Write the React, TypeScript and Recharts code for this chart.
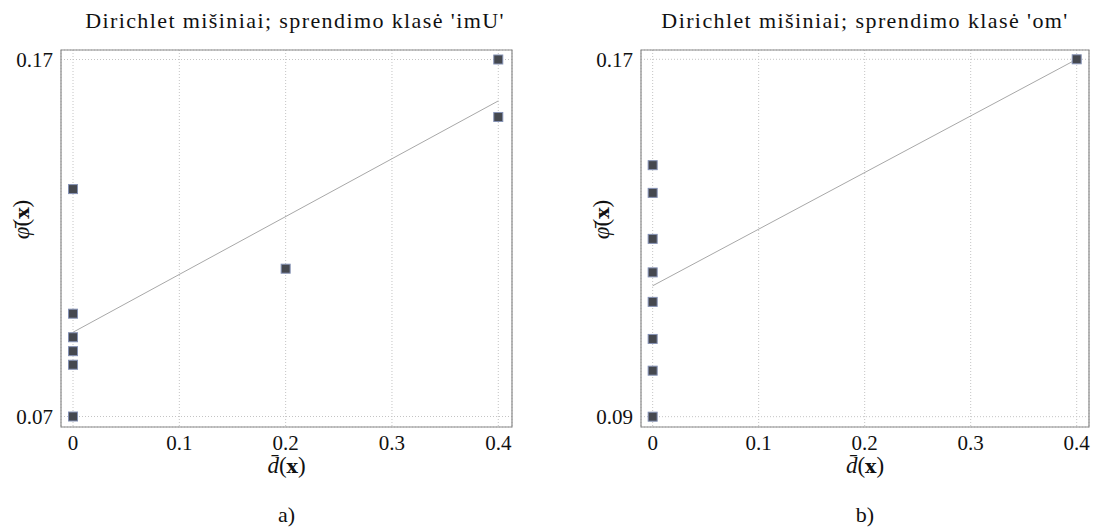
import React from 'react';
import { CartesianGrid, ReferenceArea, ReferenceLine, Scatter, ScatterChart, XAxis, YAxis } from 'recharts';

// panel a) 'imU'
const imuPoints = [
  { x: 0, y: 0.1337 },
  { x: 0, y: 0.0988 },
  { x: 0, y: 0.0922 },
  { x: 0, y: 0.0883 },
  { x: 0, y: 0.0845 },
  { x: 0, y: 0.07 },
  { x: 0.2, y: 0.1114 },
  { x: 0.4, y: 0.17 },
  { x: 0.4, y: 0.1539 },
];
const imuFit = [{ x: 0, y: 0.0936 }, { x: 0.4, y: 0.1584 }];
const imuYTicks = [0.07, 0.17];

// panel b) 'om'
const omPoints = [
  { x: 0, y: 0.1463 },
  { x: 0, y: 0.1401 },
  { x: 0, y: 0.1298 },
  { x: 0, y: 0.1223 },
  { x: 0, y: 0.1157 },
  { x: 0, y: 0.1074 },
  { x: 0, y: 0.1003 },
  { x: 0, y: 0.09 },
  { x: 0.4, y: 0.17 },
];
const omFit = [{ x: 0, y: 0.1193 }, { x: 0.4, y: 0.17 }];
const omYTicks = [0.09, 0.17];

const xTicks = [0, 0.1, 0.2, 0.3, 0.4];

const serif = 'Liberation Serif, Times New Roman, DejaVu Serif, serif';
const tickStyle = { fill: '#111', fontFamily: serif, fontSize: 21 };

const Square = (p: any) => (
  <rect x={p.cx - 4.5} y={p.cy - 4.5} width={9} height={9} fill="#45484f" stroke="#8592b5" strokeWidth={1}/>
);

function Panel({ title, tag, points, fit, yTicks, xDomain, yDomain, left, width, margin, titleX }: any) {
  const cx = left + margin.left + 50 + (width - margin.left - 50 - margin.right) / 2;
  const label = { position: 'absolute' as const, fontFamily: serif, color: '#111', textAlign: 'center' as const, lineHeight: 1 };
  return (
    <>
      <div style={{ position: 'absolute', left, top: 0 }}>
        <ScatterChart width={width} height={528} margin={margin} style={{ fontFamily: serif }}>
          <CartesianGrid stroke="#c4c4c4" strokeDasharray="1 2"/>
          <XAxis
            type="number"
            dataKey="x"
            domain={xDomain}
            ticks={xTicks}
            allowDataOverflow
            tickLine={false}
            axisLine={false}
            tick={tickStyle}
            tickFormatter={(v) => String(v)}
            height={30}
          />
          <YAxis
            type="number"
            dataKey="y"
            domain={yDomain}
            ticks={yTicks}
            allowDataOverflow
            tickLine={false}
            axisLine={false}
            tick={tickStyle}
            tickFormatter={(v) => String(v)}
            width={50}
          />
          <ReferenceArea x1={xDomain[0]} x2={xDomain[1]} y1={yDomain[0]} y2={yDomain[1]} fill="none" stroke="#8a8a8a" strokeWidth={1.2}/>
          <ReferenceLine segment={fit} stroke="#a8a8a8" strokeWidth={1}/>
          <Scatter data={points} shape={Square} isAnimationActive={false}/>
        </ScatterChart>
      </div>
      <div style={{ ...label, left: titleX - 300, width: 600, top: 10, fontSize: 22, letterSpacing: 1.4 }}>
        {title}
      </div>
      <div style={{ ...label, left: cx - 100, width: 200, top: 454, fontSize: 23 }}>
        <i>d&#772;</i>(<b style={{ fontFamily: 'DejaVu Serif, serif', fontSize: 19 }}>x</b>)
      </div>
      <div style={{ ...label, left: left + margin.left - 90, width: 200, top: 208, fontSize: 23, transform: 'rotate(-90deg)' }}>
        <i>&#966;&#772;</i>(<b style={{ fontFamily: 'DejaVu Serif, serif', fontSize: 19 }}>x</b>)
      </div>
      <div style={{ ...label, left: cx - 50, width: 100, top: 504, fontSize: 22 }}>
        {tag}
      </div>
    </>
  );
}

export default function App() {
  return (
    <div style={{ position: 'absolute', left: 0, top: 0, width: 1093, height: 528, background: '#fff', overflow: 'hidden' }}>
      <Panel
        title="Dirichlet mišiniai; sprendimo klasė 'imU'"
        tag="a)"
        points={imuPoints}
        fit={imuFit}
        yTicks={imuYTicks}
        xDomain={[-0.0113, 0.4129]}
        yDomain={[0.06706, 0.17266]}
        left={0}
        width={546}
        titleX={295}
        margin={{ top: 50, right: 34, bottom: 71, left: 11 }}
      />
      <Panel
        title="Dirichlet mišiniai; sprendimo klasė 'om'"
        tag="b)"
        points={omPoints}
        fit={omFit}
        yTicks={omYTicks}
        xDomain={[-0.011, 0.4116]}
        yDomain={[0.08769, 0.17208]}
        left={546}
        width={547}
        titleX={865}
        margin={{ top: 50, right: 4, bottom: 71, left: 45 }}
      />
    </div>
  );
}
